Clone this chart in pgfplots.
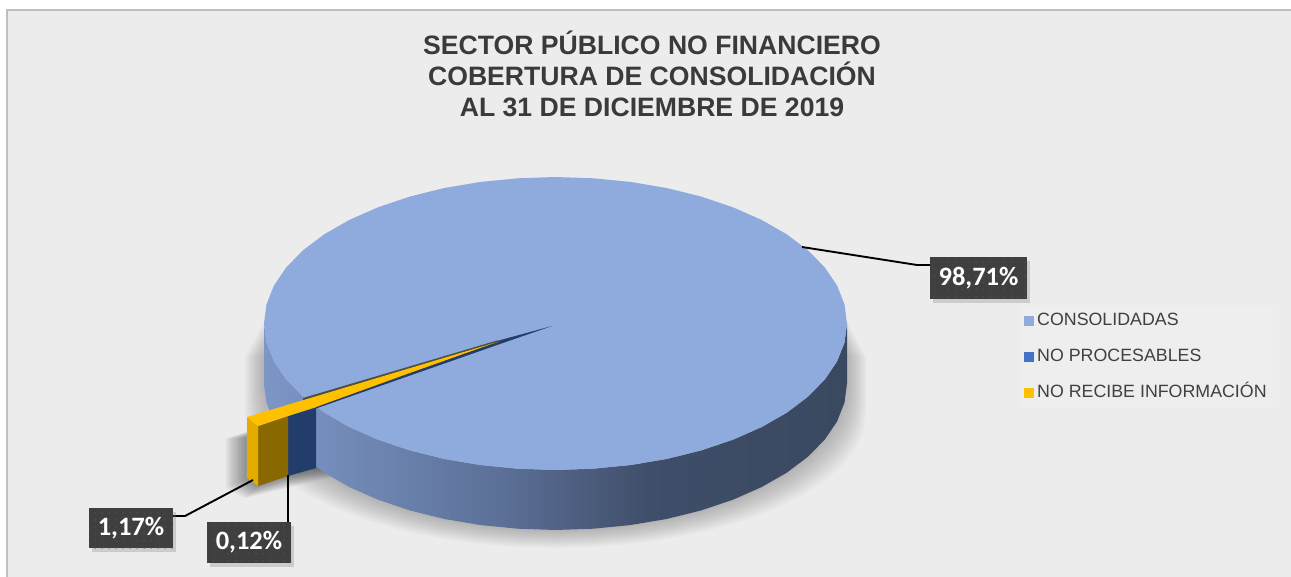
\documentclass[border=0pt]{standalone}
\usepackage{fontspec}
\setmainfont{Liberation Sans}
\newfontfamily\labelfont{Carlito}
\usepackage{pgfplots}
\pgfplotsset{compat=1.18}
\usepackage{pgfplotstable}
\usetikzlibrary{patterns,shadows}

\definecolor{panel}{HTML}{ECECEC}
\definecolor{panelline}{HTML}{BFBFBF}
\definecolor{legbg}{HTML}{EEEEEE}
\definecolor{ink}{HTML}{404040}
\definecolor{titleink}{HTML}{3A3A3A}
\definecolor{boxdark}{HTML}{3F3F3F}
\definecolor{boxdot}{HTML}{4E4E4E}
\definecolor{consol}{HTML}{8FAADC}
\definecolor{noproc}{HTML}{4472C4}
\definecolor{norec}{HTML}{FFC000}
\definecolor{norecleft}{HTML}{E5AC00}
\definecolor{norecface}{HTML}{8A6800}
\definecolor{noprocface}{HTML}{223C6B}
\definecolor{sideA}{HTML}{7E96C6}
\definecolor{sideB}{HTML}{7089B5}
\definecolor{sideC}{HTML}{5C7098}
\definecolor{sideD}{HTML}{3F4E69}
\definecolor{sideE}{HTML}{3A4860}

\pgfdeclarehorizontalshading{pieside}{100bp}{
  color(0bp)=(sideA); color(25bp)=(sideA); color(32.4bp)=(sideB);
  color(45.2bp)=(sideC); color(58bp)=(sideD); color(75bp)=(sideE); color(100bp)=(sideE)}

\pgfdeclarepatternformonly{boxdots}{\pgfpointorigin}{\pgfqpoint{6.6pt}{6.6pt}}{\pgfqpoint{6.6pt}{6.6pt}}{
  \pgfpathcircle{\pgfqpoint{3.3pt}{3.3pt}}{1pt}\pgfusepath{fill}}

% outline of the top of the pie, in pixels of the picture
\pgfplotstableread{
x y
847 323.5
844.5 342.6
837.1 361.4
824.8 379.6
807.9 396.75
786.8 412.7
761.6 427.1
733 439.7
701.25 450.4
667.1 458.9
630.9 465
593.5 468.7
555.5 470
517.5 468.7
480.1 465
443.9 458.9
409.75 450.4
378 439.7
349.4 427.1
324.2 412.7
303.1 396.75
286.2 379.6
273.9 361.4
266.5 342.6
264 323.5
266.5 304.4
273.9 285.6
286.2 267.4
303.1 250.25
324.2 234.3
349.4 219.9
378 207.3
409.75 196.6
443.9 188.1
480.1 182
517.5 178.3
555.5 177
593.5 178.3
630.9 182
667.1 188.1
701.25 196.6
733 207.3
761.6 219.9
786.8 234.3
807.9 250.25
824.8 267.4
837.1 285.6
844.5 304.4
}\pietop

% wall of the pie
\pgfplotstableread{
x y
847 323.5
844.5 342.6
837.1 361.4
824.8 379.6
807.9 396.75
786.8 412.7
761.6 427.1
733 439.7
701.25 450.4
667.1 458.9
630.9 465
593.5 468.7
555.5 470
517.5 468.7
480.1 465
443.9 458.9
409.75 450.4
378 439.7
349.4 427.1
324.2 412.7
303.1 396.75
286.2 379.6
273.9 361.4
266.5 342.6
264 323.5
264 383.5
266.5 402.6
273.9 421.4
286.2 439.6
303.1 456.75
324.2 472.7
349.4 487.1
378 499.7
409.75 510.4
443.9 518.9
480.1 525
517.5 528.7
555.5 530
593.5 528.7
630.9 525
667.1 518.9
701.25 510.4
733 499.7
761.6 487.1
786.8 472.7
807.9 456.75
824.8 439.6
837.1 421.4
844.5 402.6
847 383.5
}\pieside

% silhouette that the soft shadow grows from
\pgfplotstableread{
x y
264 320
264 383.5
266.5 402.6
273.9 421.4
286.2 439.6
303.1 456.75
324.2 472.7
349.4 487.1
378 499.7
409.75 510.4
443.9 518.9
480.1 525
517.5 528.7
555.5 530
593.5 528.7
630.9 525
667.1 518.9
701.25 510.4
733 499.7
761.6 487.1
786.8 472.7
807.9 456.75
824.8 439.6
837.1 421.4
844.5 402.6
847 383.5
847 320
}\pieshadow

\pgfplotstableread{
x y
246 438
316 408
316 468
258 486
246 478
}\wedgeshadow

\tikzset{
  valbox/.style={preaction={fill=boxdark,drop shadow={shadow xshift=3pt,shadow yshift=-4pt,opacity=.3}},
    pattern=boxdots,pattern color=boxdot,text=white,inner sep=0pt,
    font=\labelfont\bfseries\fontsize{26.5}{30}\selectfont},
  titleline/.style={anchor=base,text=titleink,font=\bfseries\fontsize{26.6}{31}\selectfont}
}

\begin{document}
\begin{tikzpicture}
\begin{axis}[
    scale only axis,
    width=1291pt, height=577pt,
    xmin=0, xmax=1291, ymin=0, ymax=577,
    y dir=reverse,
    axis lines=none,
    legend image code/.code={\fill[draw=none,#1] (0pt,-5pt) rectangle (10pt,5pt);},
    legend cell align=left,
    legend style={at={(axis cs:1020,306)}, anchor=north west, draw=none, fill=legbg,
      font=\fontsize{17.8}{20}\selectfont, text=ink, row sep=14pt, inner xsep=4pt,
      inner ysep=4pt, nodes={text height=13.5pt,text depth=4.5pt},
      /tikz/every odd column/.append style={column sep=1pt}},
]
% page and panel
\addplot[forget plot, fill=white, draw=none] coordinates {(0,0) (1291,0) (1291,577) (0,577)} --cycle;
\addplot[forget plot, fill=panel, draw=none] coordinates {(7,10) (1291,10) (1291,577) (7,577)} --cycle;
\addplot[forget plot, draw=panelline, line width=2.2pt] coordinates {(7,577) (7,10) (1291,10)};

% soft shadows
\pgfplotsinvokeforeach{1,...,12}{
  \addplot[forget plot, fill=black, draw=none, fill opacity=.021]
    table[x expr=555.5+(\thisrow{x}-555.5)*(1+#1*0.0055), y expr=320+#1*3+(\thisrow{y}-320)*(1-#1*0.0071)] {\pieshadow} --cycle;
  \addplot[forget plot, fill=black, draw=none, fill opacity=.035]
    table[x expr=280+(\thisrow{x}-280)*(1+#1*0.05), y expr=460+#1*0.5+(\thisrow{y}-460)*(1+#1*0.02)] {\wedgeshadow} --cycle;
}

% pie
\addplot[forget plot, draw=none, shading=pieside, shading angle=0] table {\pieside} --cycle;
\addplot[forget plot, fill=consol, draw=none] table {\pietop} --cycle;

% the two small slices, pulled out
\addplot[forget plot, fill=noprocface, draw=none] coordinates {(316,408.5) (500,344) (552,326) (497,341) (316,405)} --cycle;
\addplot[forget plot, fill=noprocface!60!norecface, draw=none] coordinates {(303,398) (497,340.5) (500,342) (303,400.5)} --cycle;
\addplot[forget plot, fill=noprocface, draw=none] coordinates {(288,416) (316,407.5) (316,468) (288,476)} --cycle;
\addplot[forget plot, fill=norecface, draw=none] coordinates {(258,426) (288,416) (288,476) (258,486)} --cycle;
\addplot[forget plot, fill=norecleft, draw=none] coordinates {(247,417) (258,426) (258,486) (247,478)} --cycle;
\addplot[forget plot, fill=norec, draw=none] coordinates {(247,417) (497,342) (407,374) (316,407) (288,416) (258,426)} --cycle;

% leader lines
\addplot[forget plot, black, line width=1.9pt] coordinates {(802,247) (917,265) (930,265)};
\addplot[forget plot, black, line width=1.9pt] coordinates {(253,480) (185,516) (172,516)};
\addplot[forget plot, black, line width=1.9pt] coordinates {(288,475) (288,522)};

% legend
\addlegendimage{fill=consol}
\addlegendentry{CONSOLIDADAS}
\addlegendimage{fill=noproc}
\addlegendentry{NO PROCESABLES}
\addlegendimage{fill=norec}
\addlegendentry{NO RECIBE INFORMACIÓN}

% title
\node[titleline] at (axis cs:652,54.3) {SECTOR PÚBLICO NO FINANCIERO};
\node[titleline] at (axis cs:652,85.7) {COBERTURA DE CONSOLIDACIÓN};
\node[titleline] at (axis cs:652,116.7) {AL 31 DE DICIEMBRE DE 2019};

% value labels
\node[valbox,minimum width=97pt,minimum height=42pt] at (axis cs:978.5,278) {98,71\%};
\node[valbox,minimum width=83.5pt,minimum height=40pt] at (axis cs:131,528) {1,17\%};
\node[valbox,minimum width=84pt,minimum height=41pt] at (axis cs:249,542.5) {0,12\%};
\end{axis}
\end{tikzpicture}
\end{document}
